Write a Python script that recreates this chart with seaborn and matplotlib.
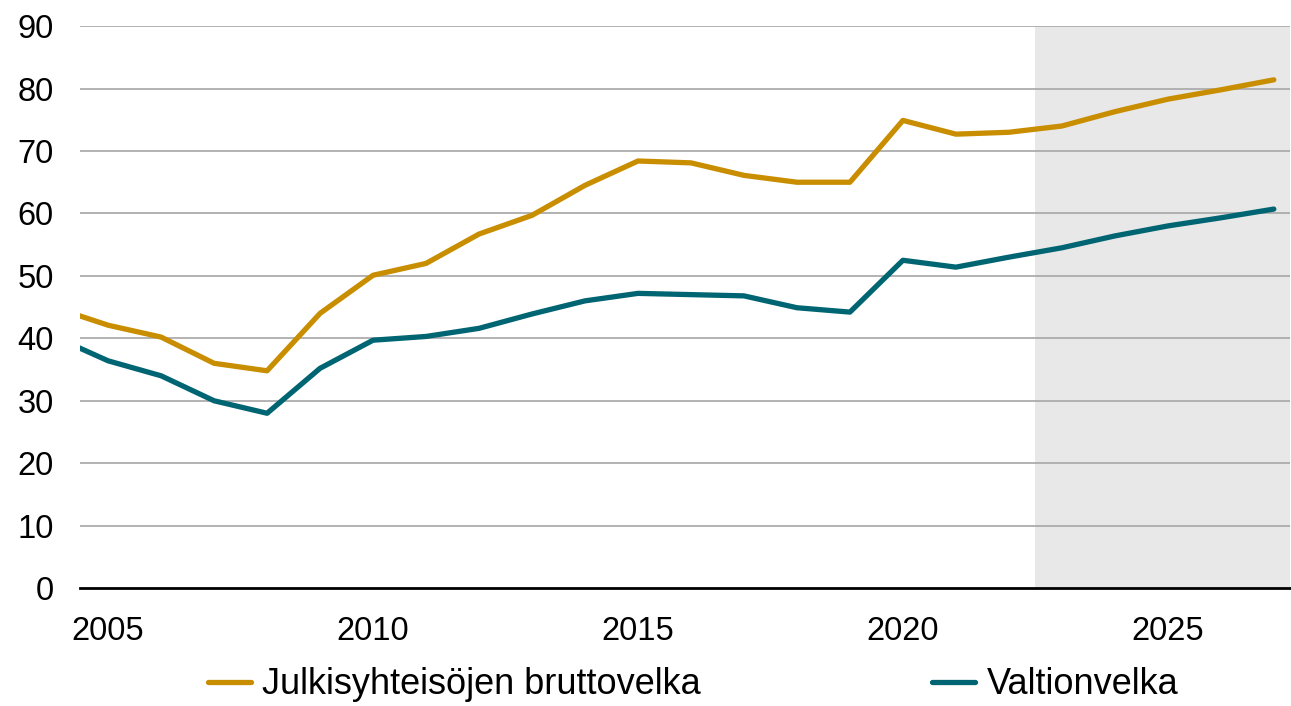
import matplotlib
matplotlib.use("Agg")
import matplotlib.pyplot as plt
import seaborn as sns
import pandas as pd
from matplotlib.lines import Line2D

years = list(range(2004, 2028))
julkis = [44.9, 42.1, 40.2, 36.0, 34.8, 44.0, 50.1, 52.0, 56.7, 59.7, 64.5, 68.4,
          68.1, 66.1, 65.0, 65.0, 74.9, 72.7, 73.0, 74.0, 76.3, 78.3, 79.8, 81.4]
valtio = [40.2, 36.4, 34.0, 30.0, 28.0, 35.2, 39.7, 40.3, 41.6, 43.9, 46.0, 47.2,
          47.0, 46.8, 44.9, 44.2, 52.5, 51.4, 53.0, 54.5, 56.4, 58.0, 59.3, 60.7]
series_names = ["Julkisyhteisöjen bruttovelka", "Valtionvelka"]
colors = ["#C98D00", "#006572"]
xticks = [2005, 2010, 2015, 2020, 2025]
yticks = [0, 10, 20, 30, 40, 50, 60, 70, 80, 90]
forecast_start = 2022.5

df = pd.DataFrame({
    "year": years * 2,
    "value": julkis + valtio,
    "series": [series_names[0]] * len(years) + [series_names[1]] * len(years),
})

sns.set_theme(style="white")
plt.rcParams["font.family"] = ["Liberation Sans", "DejaVu Sans"]

fig = plt.figure(figsize=(12.91, 7.06), dpi=100)
ax = fig.add_axes([0.062, 0.167, 0.937, 0.796])

ax.axvspan(forecast_start, 2027.3, color="#E8E8E8", zorder=0, lw=0)
for y in yticks[1:]:
    ax.axhline(y, color="#A6A6A6", lw=1.2, zorder=1)

sns.lineplot(data=df, x="year", y="value", hue="series", palette=colors,
             hue_order=series_names, lw=3.8, ax=ax, legend=False, zorder=3)

ax.set_xlim(2004.47, 2027.3)
ax.set_ylim(0, 90)
ax.set_xticks(xticks)
ax.set_yticks(yticks)
ax.set_xlabel("")
ax.set_ylabel("")
ax.tick_params(axis="both", length=0, labelsize=23.5, colors="black")
ax.tick_params(axis="x", pad=20)
ax.tick_params(axis="y", pad=19)
for s in ["left", "right", "top"]:
    ax.spines[s].set_visible(False)
ax.spines["bottom"].set_color("black")
ax.spines["bottom"].set_linewidth(2)
ax.spines["bottom"].set_zorder(4)

handles = [Line2D([], [], color=c, lw=3.8) for c in colors]
fig.legend(handles, series_names, loc="center", bbox_to_anchor=(0.537, 0.03),
           ncol=2, frameon=False, fontsize=26, handlelength=1.17,
           handletextpad=0.33, columnspacing=6.4, labelcolor="black",
           borderpad=0, borderaxespad=0)

fig.savefig("out.png", dpi=100)
